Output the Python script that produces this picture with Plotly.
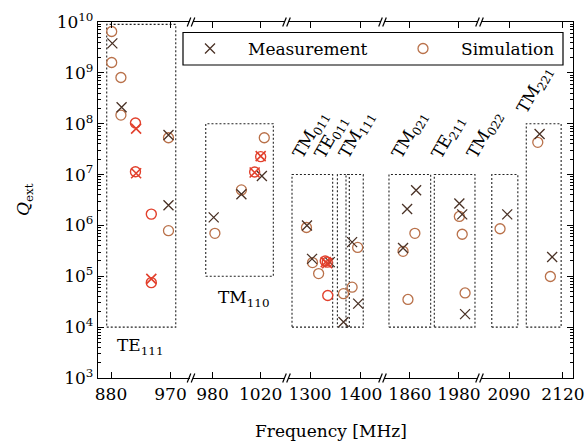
import plotly.graph_objects as go

W, H = 586, 445
L, R, T, B = 98, 13, 22, 67
PW, PH = W - L - R, H - T - B

FONT = "DejaVu Serif"
FS = 17

# ---- broken x-axis segments ----
seg_ticks = [[880, 970], [980, 1020], [1300, 1400], [1860, 1980], [2090, 2120]]
seg_ranges = [[860.3, 998.8], [963.4, 1040.2], [1256.6, 1440.0], [1796.3, 2026.7], [2074.4, 2125.6]]
seg_px = [[98, 189.5], [192.5, 285], [288, 381], [384, 478], [481, 573]]

# ---- data ----
meas_f = [882, 896, 967, 967, 1021, 1004, 981, 1294, 1304, 1339, 1366, 1383, 1395,
          1875, 1853, 1843, 1981, 1988, 1995, 2089, 2107, 2114]
meas_q = [3.8e9, 2.1e8, 6.0e7, 2.5e6, 9.4e6, 4.1e6, 1.44e6, 1.0e6, 2.2e5, 1.9e5, 1.26e4, 4.7e5, 2.9e4,
          4.9e6, 2.1e6, 3.6e5, 2.7e6, 1.65e6, 1.8e4, 1.65e6, 6.3e7, 2.4e5]
meas_seg = [0, 0, 0, 0, 1, 1, 1, 2, 2, 2, 2, 2, 2, 3, 3, 3, 3, 3, 3, 4, 4, 4]

sim_f = [881, 881, 895, 895, 967, 967, 1023, 1004, 982, 1293, 1305, 1317, 1366, 1383, 1394,
         1872, 1843, 1855, 1981, 1988, 1995, 2085, 2106, 2113]
sim_q = [6.5e9, 1.6e9, 8.1e8, 1.48e8, 5.3e7, 7.9e5, 5.3e7, 5.0e6, 7.0e5, 9.1e5, 1.86e5, 1.13e5, 4.55e4, 6.1e4, 3.7e5,
         7.0e5, 3.1e5, 3.5e4, 1.5e6, 6.7e5, 4.7e4, 8.6e5, 4.3e7, 9.9e4]
sim_seg = [0, 0, 0, 0, 0, 0, 1, 1, 1, 2, 2, 2, 2, 2, 2, 3, 3, 3, 3, 3, 3, 4, 4, 4]

red_sim_f = [917, 917, 941, 941, 1020, 1015, 1330, 1334, 1335]
red_sim_q = [1.03e8, 1.14e7, 1.67e6, 7.5e4, 2.25e7, 1.12e7, 2.0e5, 1.9e5, 4.2e4]
red_sim_seg = [0, 0, 0, 0, 1, 1, 2, 2, 2]

red_meas_f = [918, 918, 941, 1020, 1015, 1331, 1334]
red_meas_q = [8.0e7, 1.06e7, 8.9e4, 2.3e7, 1.1e7, 1.9e5, 1.8e5]
red_meas_seg = [0, 0, 0, 1, 1, 2, 2]

# mode regions (dotted boxes)
box_f0 = [873.5, 974.4, 1264.5, 1354, 1371, 1808.5, 1919.6, 2080.4, 2099.6]
box_f1 = [978, 1030.5, 1344.7, 1377.5, 1405, 1910.7, 2019.3, 2094.9, 2119]
box_q0 = [1e4, 1e5, 1e4, 1e4, 1e4, 1e4, 1e4, 1e4, 1e4]
box_q1 = [9e9, 1e8, 1e7, 1e7, 1e7, 1e7, 1e7, 1e7, 1e8]
box_seg = [0, 1, 2, 2, 2, 3, 3, 4, 4]

C_MEAS = "#4a3226"
C_SIM = "#b9714a"
C_RED = "#e2402c"


def px2x(px):
    return (px - L) / PW


def py2y(py):
    return (H - B - py) / PH


fig = go.Figure()


def ax_name(i, kind):
    return kind if i == 0 else f"{kind}{i + 1}"


# boxes
for f0, f1, q0, q1, s in zip(box_f0, box_f1, box_q0, box_q1, box_seg):
    fig.add_trace(go.Scatter(x=[f0, f1, f1, f0, f0], y=[q0, q0, q1, q1, q0], mode="lines",
                             line=dict(color="#222", width=1.1, dash="2px,2px"),
                             xaxis=ax_name(s, "x"), yaxis=ax_name(s, "y"),
                             showlegend=False, hoverinfo="skip"))


def add_series(fs, qs, segs, symbol, color, lw):
    for s in range(5):
        xs = [f for f, g in zip(fs, segs) if g == s]
        ys = [q for q, g in zip(qs, segs) if g == s]
        if not xs:
            continue
        fig.add_trace(go.Scatter(x=xs, y=ys, mode="markers",
                                 marker=dict(symbol=symbol, size=10, color=color,
                                             line=dict(color=color, width=lw)),
                                 xaxis=ax_name(s, "x"), yaxis=ax_name(s, "y"),
                                 showlegend=False))


add_series(sim_f, sim_q, sim_seg, "circle-open", C_SIM, 1.3)
add_series(meas_f, meas_q, meas_seg, "x-thin-open", C_MEAS, 1.3)
add_series(red_sim_f, red_sim_q, red_sim_seg, "circle-open", C_RED, 1.4)
add_series(red_meas_f, red_meas_q, red_meas_seg, "x-thin-open", C_RED, 1.6)

# legend keys on an overlay axis in paper-like units
fig.add_trace(go.Scatter(x=[px2x(210)], y=[py2y(48.5)], mode="markers",
                         marker=dict(symbol="x-thin-open", size=10, color=C_MEAS,
                                     line=dict(color=C_MEAS, width=1.3)),
                         xaxis="x6", yaxis="y6", showlegend=False, hoverinfo="skip"))
fig.add_trace(go.Scatter(x=[px2x(423)], y=[py2y(48.5)], mode="markers",
                         marker=dict(symbol="circle-open", size=10, color=C_SIM,
                                     line=dict(color=C_SIM, width=1.3)),
                         xaxis="x6", yaxis="y6", showlegend=False, hoverinfo="skip"))

layout = dict(
    width=W, height=H,
    margin=dict(l=L, r=R, t=T, b=B, autoexpand=False),
    paper_bgcolor="white", plot_bgcolor="rgba(0,0,0,0)",
    font=dict(family=FONT, size=FS, color="black"),
    showlegend=False,
)

ytickvals = [10 ** k for k in range(3, 11)]
ytext = [f"10<sup>{k}</sup>" for k in range(3, 11)]
yminor = [m * 10 ** k for k in range(3, 10) for m in range(2, 10)]

for i in range(5):
    d0, d1 = px2x(seg_px[i][0]), px2x(seg_px[i][1])
    layout[ax_name(i, "xaxis")] = dict(
        domain=[d0, d1], range=seg_ranges[i], anchor=ax_name(i, "y"),
        tickvals=seg_ticks[i], ticktext=[str(v) for v in seg_ticks[i]],
        ticks="inside", ticklen=6, tickwidth=1.2, tickcolor="black",
        showline=True, linecolor="black", linewidth=1.3, mirror="ticks",
        showgrid=False, zeroline=False, tickfont=dict(family=FONT, size=FS),
        automargin=False, ticklabeloverflow="allow",
    )
    yax = dict(type="log", range=[3, 10], domain=[0, 1], anchor=ax_name(i, "x"),
               showgrid=False, zeroline=False, automargin=False)
    if i > 0:
        yax["matches"] = "y"
    if i == 0:
        yax.update(tickvals=ytickvals, ticktext=ytext, ticks="inside", ticklen=6, tickwidth=1.2,
                   tickcolor="black", showline=True, linecolor="black", linewidth=1.3,
                   minor=dict(tickmode="array", tickvals=yminor, ticks="inside", ticklen=3,
                              tickwidth=1, tickcolor="black"),
                   tickfont=dict(family=FONT, size=FS), ticklabeloverflow="allow")
    elif i == 4:
        yax.update(side="right", tickvals=ytickvals, ticks="inside", ticklen=6, tickwidth=1.2,
                   tickcolor="black", showline=True, linecolor="black", linewidth=1.3,
                   showticklabels=False,
                   minor=dict(tickmode="array", tickvals=yminor, ticks="inside", ticklen=3,
                              tickwidth=1, tickcolor="black"))
    else:
        yax.update(visible=False)
    layout[ax_name(i, "yaxis")] = yax

layout["xaxis6"] = dict(domain=[0, 1], range=[0, 1], anchor="y6", visible=False, automargin=False)
layout["yaxis6"] = dict(domain=[0, 1], range=[0, 1], anchor="x6", visible=False, automargin=False)

fig.update_layout(**layout)

shapes = []
# axis break marks
for c in [191, 286.5, 382.5, 479.5]:
    for yb in [T, H - B]:
        for off in (-2, 2):
            shapes.append(dict(type="line", xref="paper", yref="paper",
                               x0=px2x(c + off - 1.8), y0=py2y(yb + 4.5),
                               x1=px2x(c + off + 1.8), y1=py2y(yb - 4.5),
                               line=dict(color="black", width=1.2)))
# legend frame
shapes.append(dict(type="rect", xref="paper", yref="paper",
                   x0=px2x(183), x1=px2x(563), y0=py2y(65), y1=py2y(32.5),
                   line=dict(color="black", width=1.2), fillcolor="white", layer="below"))
fig.update_layout(shapes=shapes)

ann = []
ann.append(dict(text="Measurement", x=px2x(246), y=py2y(48.5), xref="paper", yref="paper",
                xanchor="left", yanchor="middle", showarrow=False))
ann.append(dict(text="Simulation", x=px2x(459), y=py2y(48.5), xref="paper", yref="paper",
                xanchor="left", yanchor="middle", showarrow=False))
ann.append(dict(text="Frequency [MHz]", x=px2x(331), y=py2y(431), xref="paper", yref="paper",
                xanchor="center", yanchor="middle", showarrow=False))
ann.append(dict(text="<i>Q</i><sub>ext</sub>", x=px2x(24), y=py2y(200), xref="paper", yref="paper",
                xanchor="center", yanchor="middle", showarrow=False, textangle=-90))
ann.append(dict(text="TE<sub>111</sub>", x=px2x(139.5), y=py2y(346), xref="paper", yref="paper",
                xanchor="center", yanchor="middle", showarrow=False))
ann.append(dict(text="TM<sub>110</sub>", x=px2x(243), y=py2y(298), xref="paper", yref="paper",
                xanchor="center", yanchor="middle", showarrow=False))

rot_labels = ["TM<sub>011</sub>", "TE<sub>011</sub>", "TM<sub>111</sub>", "TM<sub>021</sub>",
              "TE<sub>211</sub>", "TM<sub>022</sub>", "TM<sub>221</sub>"]
rot_px = [(299, 165), (321, 165), (345, 165), (398, 165), (438, 165), (473, 165), (523, 120)]
for txt, (px, py) in zip(rot_labels, rot_px):
    ann.append(dict(text=txt, x=px2x(px - 12), y=py2y(py), xref="paper", yref="paper",
                    xanchor="left", yanchor="bottom", showarrow=False, textangle=-60,
                    borderpad=0))
fig.update_layout(annotations=ann)

fig.write_html("out.html")
